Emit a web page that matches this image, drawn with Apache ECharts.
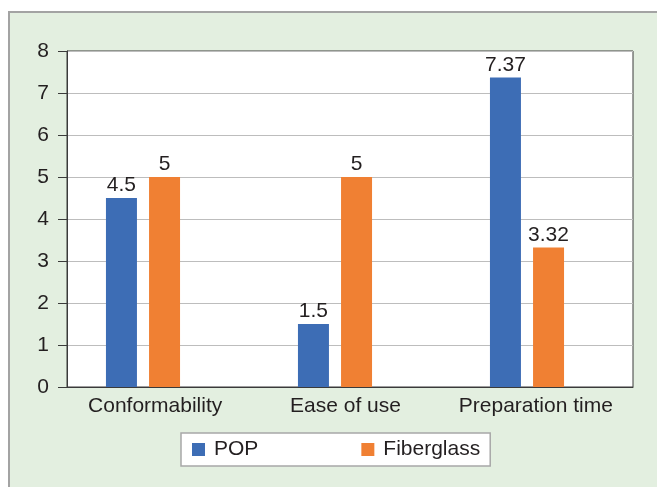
<!DOCTYPE html>
<html>
<head>
<meta charset="utf-8">
<script src="https://cdn.jsdelivr.net/npm/echarts@6/dist/echarts.min.js"></script>
<style>
html,body{margin:0;padding:0;background:#ffffff;}
#chart{width:657px;height:487px;}
</style>
</head>
<body>
<div id="chart"></div>
<script>
const categories = ['Conformability', 'Ease of use', 'Preparation time'];
const popValues = [4.5, 1.5, 7.37];
const fiberglassValues = [5, 5, 3.32];
const seriesNames = ['POP', 'Fiberglass'];
const yMin = 0, yMax = 8, yStep = 1;

const FONT = '"Liberation Sans", Arial, sans-serif';
const TXT = '#231f20';
const chart = echarts.init(document.getElementById('chart'), null, {renderer: 'canvas'});

const option = {
  animation: false,
  backgroundColor: '#ffffff',
  textStyle: {fontFamily: FONT},
  graphic: [{
    type: 'rect', z: -10, silent: true,
    shape: {x: 9, y: 12, width: 700, height: 520},
    style: {fill: '#e3efe0', stroke: '#a3a3a3', lineWidth: 2}
  }],
  grid: [
    {left: 67, top: 51, width: 566, height: 336, show: true, backgroundColor: '#ffffff', borderColor: '#3a3a3a', borderWidth: 1},
    {left: 47, top: 51, width: 576, height: 336},
    {left: 60, top: 51, width: 571, height: 336}
  ],
  xAxis: [
    {gridIndex: 0, type: 'category', data: categories, axisLine: {lineStyle: {color: '#3a3a3a'}}, axisTick: {show: false}, axisLabel: {show: false}, z: 5},
    {gridIndex: 1, type: 'category', data: categories, show: false},
    {gridIndex: 2, type: 'category', data: categories, axisLine: {show: false}, axisTick: {show: false},
      axisLabel: {color: TXT, fontSize: 21, fontFamily: FONT, margin: 9, interval: 0}}
  ],
  yAxis: [
    {gridIndex: 0, type: 'value', min: yMin, max: yMax, interval: yStep,
      axisLine: {show: true, lineStyle: {color: '#3a3a3a'}},
      axisTick: {show: true, length: 9, lineStyle: {color: '#3a3a3a'}},
      splitLine: {lineStyle: {color: '#bdbdbd', width: 1}},
      axisLabel: {color: TXT, fontSize: 21, fontFamily: FONT, margin: 18, padding: [6, 0, 0, 0]}, z: 1},
    {gridIndex: 1, type: 'value', min: yMin, max: yMax, interval: yStep, show: false},
    {gridIndex: 2, type: 'value', min: yMin, max: yMax, interval: yStep, show: false}
  ],
  legend: {
    data: seriesNames,
    left: 181, top: 433,
    orient: 'horizontal',
    icon: 'rect', itemWidth: 13, itemHeight: 13, itemGap: 103,
    padding: [6, 10, 6, 11],
    backgroundColor: '#ffffff', borderColor: '#a8a8a8', borderWidth: 1.5,
    textStyle: {color: TXT, fontSize: 21, fontFamily: FONT, padding: [0, 0, 0, 4]}
  },
  series: [
    {name: seriesNames[0], type: 'bar', xAxisIndex: 1, yAxisIndex: 1, data: popValues, z: 3,
      barWidth: 31, barGap: '39%', itemStyle: {color: '#3d6db5'},
      label: {show: true, position: 'top', distance: 2, color: TXT, fontSize: 21, fontFamily: FONT}},
    {name: seriesNames[1], type: 'bar', xAxisIndex: 1, yAxisIndex: 1, data: fiberglassValues, z: 3,
      barWidth: 31, barGap: '39%', itemStyle: {color: '#f08033'},
      label: {show: true, position: 'top', distance: 2, color: TXT, fontSize: 21, fontFamily: FONT}}
  ]
};
chart.setOption(option);
</script>
</body>
</html>
